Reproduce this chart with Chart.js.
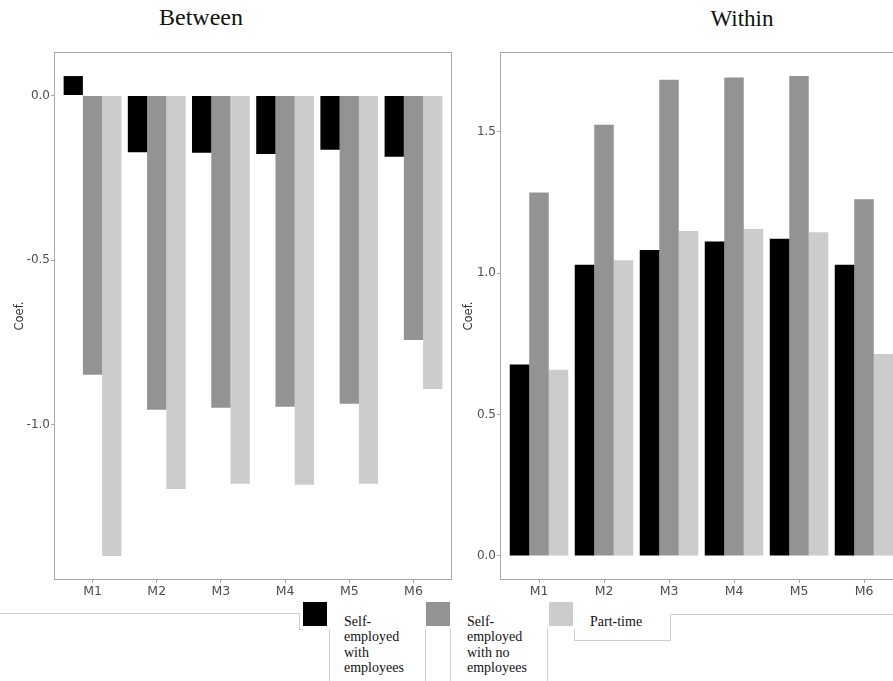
<!DOCTYPE html>
<html>
<head>
<meta charset="utf-8">
<script src="https://cdn.jsdelivr.net/npm/chart.js@4"></script>
<style>
  html, body { margin: 0; padding: 0; background: #fff; overflow: hidden; }
  body { width: 893px; height: 681px; position: relative; }
  .panel { position: absolute; top: 0; height: 600px; }
  .ttl { position: absolute; top: 4px; font-family: "Liberation Serif", serif; color: #111; white-space: nowrap; transform: translateX(-50%); }
  .leg-box { position: absolute; width: 24px; height: 24px; top: 602px; }
  .leg-txt { position: absolute; top: 614px; font-family: "Liberation Serif", serif; font-size: 14px; line-height: 15.3px; color: #111; }
  .ln { position: absolute; background: #cfcfcf; }
</style>
</head>
<body>

<div class="ttl" style="left:201px; font-size:24px;">Between</div>
<div class="ttl" style="left:742px; font-size:23px; top:6px;">Within</div>

<div class="panel" style="left:0; width:460px;"><canvas id="betweenChart"></canvas></div>
<div class="panel" style="left:449px; width:462px;"><canvas id="withinChart"></canvas></div>

<!-- legend -->
<div class="leg-box" style="left:303px; background:#000;"></div>
<div class="leg-box" style="left:426px; background:#939393;"></div>
<div class="leg-box" style="left:549px; background:#cccccc;"></div>
<div class="leg-txt" style="left:344px;">Self-<br>employed<br>with<br>employees</div>
<div class="leg-txt" style="left:467px;">Self-<br>employed<br>with no<br>employees</div>
<div class="leg-txt" style="left:590px;">Part-time</div>

<div class="ln" style="left:0; top:613px; width:300px; height:1px;"></div>
<div class="ln" style="left:299px; top:613px; width:1px; height:17px;"></div>
<div class="ln" style="left:299px; top:629px; width:4px; height:1px;"></div>
<div class="ln" style="left:329px; top:629px; width:1px; height:52px;"></div>
<div class="ln" style="left:425px; top:629px; width:1px; height:52px;"></div>
<div class="ln" style="left:450px; top:629px; width:1px; height:52px;"></div>
<div class="ln" style="left:547px; top:629px; width:1px; height:52px;"></div>
<div class="ln" style="left:574px; top:629px; width:1px; height:12px;"></div>
<div class="ln" style="left:574px; top:640px; width:97px; height:1px;"></div>
<div class="ln" style="left:670px; top:614px; width:1px; height:27px;"></div>
<div class="ln" style="left:670px; top:614px; width:223px; height:1px;"></div>

<script>
// ---- data ----
const models = ['M1', 'M2', 'M3', 'M4', 'M5', 'M6'];
const seriesNames = ['Self-employed with employees', 'Self-employed with no employees', 'Part-time'];
const seriesColors = ['#000000', '#939393', '#cccccc'];

const betweenWithEmp   = [0.059, -0.172, -0.174, -0.178, -0.165, -0.186];
const betweenNoEmp     = [-0.848, -0.954, -0.948, -0.945, -0.936, -0.742];
const betweenPartTime  = [-1.398, -1.195, -1.179, -1.182, -1.179, -0.891];

const withinWithEmp    = [0.677, 1.030, 1.082, 1.112, 1.122, 1.030];
const withinNoEmp      = [1.285, 1.525, 1.684, 1.692, 1.697, 1.261];
const withinPartTime   = [0.658, 1.046, 1.149, 1.156, 1.145, 0.714];

const betweenTicks = [0.0, -0.5, -1.0];
const withinTicks  = [0.0, 0.5, 1.0, 1.5];

// ---- helpers ----
const tickColor = '#4d4d4d';

// grey frame around the plot panel (ggplot style)
const panelFrame = {
    id: 'panelFrame',
    afterDatasetsDraw(chart) {
        const a = chart.chartArea;
        const ctx = chart.ctx;
        ctx.save();
        ctx.strokeStyle = '#a9a9a9';
        ctx.lineWidth = 1;
        ctx.strokeRect(Math.round(a.left) + 0.5, Math.round(a.top) + 0.5,
                       Math.round(a.right - a.left) - 1, Math.round(a.bottom - a.top) - 1);
        ctx.restore();
    }
};

function makeChart(id, seriesList, yMin, yMax, yTicks, axisWidth) {
    return new Chart(document.getElementById(id), {
        type: 'bar',
        data: {
            datasets: seriesList.map((vals, i) => ({
                label: seriesNames[i],
                data: vals.map((v, j) => ({ x: j + 1, y: v })),
                backgroundColor: seriesColors[i],
                borderWidth: 0,
                categoryPercentage: 0.9,
                barPercentage: 1.0
            }))
        },
        options: {
            responsive: true,
            maintainAspectRatio: false,
            animation: false,
            layout: { padding: { top: 52, right: 8, left: 0, bottom: 0 } },
            plugins: {
                legend: { display: false },
                tooltip: { enabled: false }
            },
            scales: {
                x: {
                    type: 'linear',
                    min: 0.4,
                    max: 6.6,
                    offset: false,
                    afterBuildTicks: s => { s.ticks = models.map((m, i) => ({ value: i + 1 })); },
                    afterFit: s => { s.height = 20; },
                    border: { display: false },
                    grid: { offset: false, drawOnChartArea: false, drawTicks: true, tickLength: 3, color: '#a9a9a9' },
                    ticks: {
                        font: { family: 'DejaVu Sans', size: 12.5 },
                        color: tickColor,
                        padding: 1,
                        maxRotation: 0,
                        callback: v => models[v - 1]
                    }
                },
                y: {
                    min: yMin,
                    max: yMax,
                    afterBuildTicks: s => { s.ticks = yTicks.map(v => ({ value: v })); },
                    afterFit: s => { s.width = axisWidth; },
                    border: { display: false },
                    grid: { drawOnChartArea: false, drawTicks: true, tickLength: 3, color: '#a9a9a9' },
                    ticks: {
                        font: { family: 'DejaVu Sans', size: 12 },
                        color: tickColor,
                        padding: 1,
                        callback: v => v.toFixed(1)
                    },
                    title: {
                        display: true,
                        text: 'Coef.',
                        font: { family: 'DejaVu Sans', size: 11.5 },
                        color: '#333',
                        padding: { top: 13, bottom: 0 }
                    }
                }
            }
        },
        plugins: [panelFrame]
    });
}

makeChart('betweenChart', [betweenWithEmp, betweenNoEmp, betweenPartTime], -1.471, 0.132, betweenTicks, 54);
makeChart('withinChart', [withinWithEmp, withinNoEmp, withinPartTime], -0.085, 1.782, withinTicks, 51);
</script>
</body>
</html>
